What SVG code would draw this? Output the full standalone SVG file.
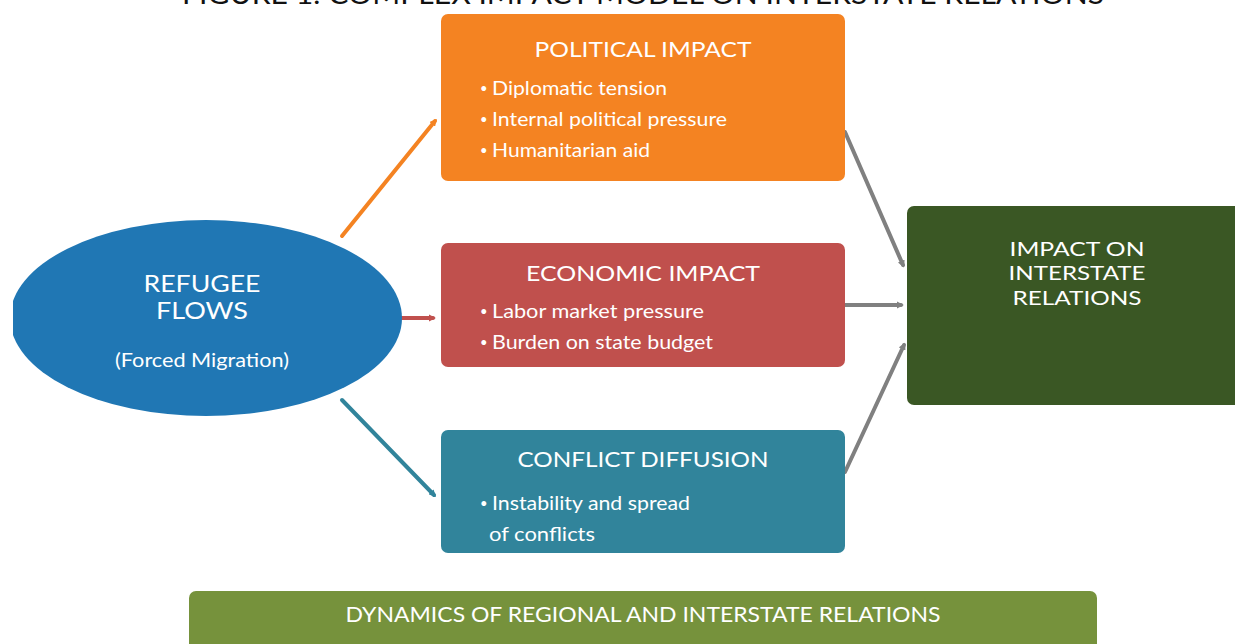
<svg xmlns="http://www.w3.org/2000/svg" width="1235" height="644" viewBox="0 0 1235 644">
<style>
  .t { font-family: Lato, "Noto Sans", "DejaVu Sans", sans-serif; fill: #ffffff; }
  .h { font-size: 22px; text-anchor: middle; }
  .g { font-size: 20px; text-anchor: middle; }
  .b { font-size: 19px; }
  .d { font-size: 13px; }
  .c { fill: none; stroke-width: 4; stroke-linecap: round; }
</style>
<defs>
  <marker id="ah" viewBox="0 0 10 10" refX="6" refY="5" markerWidth="1.8" markerHeight="1.8" orient="auto" markerUnits="strokeWidth">
    <path d="M0,0 L10,5 L0,10 z" fill="context-stroke"/>
  </marker>
  <clipPath id="clipL"><rect x="13" y="0" width="1222" height="644"/></clipPath>
</defs>
<rect width="1235" height="644" fill="#ffffff"/>
<text x="643" y="4" font-family="Lato, 'Noto Sans', sans-serif" font-size="26" text-anchor="middle" fill="#111111" textLength="922" lengthAdjust="spacingAndGlyphs">FIGURE 1: COMPLEX IMPACT MODEL ON INTERSTATE RELATIONS</text>

<g id="connectors">
  <line class="c" x1="342" y1="236" x2="435" y2="121" stroke="#F48322" marker-end="url(#ah)"/>
  <line class="c" x1="392" y1="318" x2="433" y2="318" stroke="#C0504D" marker-end="url(#ah)"/>
  <line class="c" x1="342" y1="400" x2="434" y2="495" stroke="#31849B" marker-end="url(#ah)"/>
  <line class="c" x1="845" y1="132" x2="903" y2="265" stroke="#808080" marker-end="url(#ah)"/>
  <line class="c" x1="845" y1="305" x2="901" y2="305" stroke="#808080" marker-end="url(#ah)"/>
  <line class="c" x1="845" y1="472" x2="904" y2="345" stroke="#808080" marker-end="url(#ah)"/>
</g>

<g id="refugee-flows">
  <ellipse cx="206" cy="318" rx="196" ry="98" fill="#2077B4" clip-path="url(#clipL)"/>
  <text class="t" x="202" y="292" font-size="23" text-anchor="middle" textLength="117" lengthAdjust="spacingAndGlyphs">REFUGEE</text>
  <text class="t" x="202" y="319" font-size="23" text-anchor="middle" textLength="92" lengthAdjust="spacingAndGlyphs">FLOWS</text>
  <text class="t" x="202" y="367" font-size="19" text-anchor="middle" textLength="174" lengthAdjust="spacingAndGlyphs">(Forced Migration)</text>
</g>

<g id="political-impact">
  <rect x="441" y="14" width="404" height="167" rx="7" fill="#F48322"/>
  <text class="t h" x="643" y="57" textLength="217" lengthAdjust="spacingAndGlyphs">POLITICAL IMPACT</text>
  <text class="t d" x="480" y="93">•</text>
  <text class="t b" x="492" y="95" textLength="175" lengthAdjust="spacingAndGlyphs">Diplomatic tension</text>
  <text class="t d" x="480" y="124">•</text>
  <text class="t b" x="492" y="126" textLength="235" lengthAdjust="spacingAndGlyphs">Internal political pressure</text>
  <text class="t d" x="480" y="155">•</text>
  <text class="t b" x="492" y="157" textLength="158" lengthAdjust="spacingAndGlyphs">Humanitarian aid</text>
</g>

<g id="economic-impact">
  <rect x="441" y="243" width="404" height="124" rx="7" fill="#C0504D"/>
  <text class="t h" x="643" y="281" textLength="234" lengthAdjust="spacingAndGlyphs">ECONOMIC IMPACT</text>
  <text class="t d" x="480" y="316">•</text>
  <text class="t b" x="492" y="318" textLength="212" lengthAdjust="spacingAndGlyphs">Labor market pressure</text>
  <text class="t d" x="480" y="347">•</text>
  <text class="t b" x="492" y="349" textLength="221" lengthAdjust="spacingAndGlyphs">Burden on state budget</text>
</g>

<g id="conflict-diffusion">
  <rect x="441" y="430" width="404" height="123" rx="7" fill="#31849B"/>
  <text class="t h" x="643" y="467" textLength="251" lengthAdjust="spacingAndGlyphs">CONFLICT DIFFUSION</text>
  <text class="t d" x="480" y="508">•</text>
  <text class="t b" x="492" y="510" textLength="198" lengthAdjust="spacingAndGlyphs">Instability and spread</text>
  <text class="t b" x="489" y="541" textLength="106" lengthAdjust="spacingAndGlyphs">of conflicts</text>
</g>

<g id="interstate-relations">
  <rect x="907" y="206" width="340" height="199" rx="7" fill="#3A5724"/>
  <text class="t g" x="1077" y="256" textLength="135" lengthAdjust="spacingAndGlyphs">IMPACT ON</text>
  <text class="t g" x="1077" y="280" textLength="137" lengthAdjust="spacingAndGlyphs">INTERSTATE</text>
  <text class="t g" x="1077" y="305" textLength="129" lengthAdjust="spacingAndGlyphs">RELATIONS</text>
</g>

<g id="regional-dynamics">
  <rect x="189" y="591" width="908" height="70" rx="7" fill="#76923C"/>
  <text class="t" x="643" y="622" font-size="21" text-anchor="middle" textLength="595" lengthAdjust="spacingAndGlyphs">DYNAMICS OF REGIONAL AND INTERSTATE RELATIONS</text>
</g>
</svg>
